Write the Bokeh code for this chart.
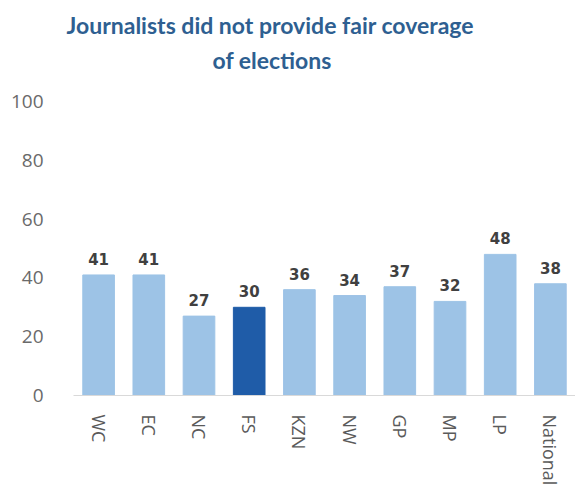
import math
from bokeh.plotting import figure
from bokeh.models import Range1d, FixedTicker, ColumnDataSource, Title
from bokeh.core.properties import value
from bokeh.embed import file_html
from bokeh.resources import INLINE

categories = ["WC", "EC", "NC", "FS", "KZN", "NW", "GP", "MP", "LP", "National"]
values = [41, 41, 27, 30, 36, 34, 37, 32, 48, 38]
highlight = "FS"
y_ticks = [0, 20, 40, 60, 80, 100]
title_lines = ["Journalists did not provide fair coverage", "of elections"]

LIGHT = "#9dc3e6"
DARK = "#1f5ca8"
colors = [DARK if c == highlight else LIGHT for c in categories]
labels = [str(v) for v in values]

src = ColumnDataSource(dict(cat=categories, val=values, color=colors, lab=labels))

FRAME_TOP = 77
p = figure(x_range=categories, y_range=Range1d(0, (395 - FRAME_TOP) / 2.94), width=575, height=492,
           output_backend="svg", toolbar_location=None,
           min_border_left=73, min_border_right=0, min_border_top=FRAME_TOP, min_border_bottom=97)
p.outline_line_color = None
p.grid.grid_line_color = None
p.background_fill_color = "white"
p.border_fill_color = "white"

p.vbar(x="cat", top="val", width=0.63, color="color", source=src)
p.text(x="cat", y="val", text="lab", source=src, y_offset=-10,
       text_align="center", text_baseline="bottom",
       text_font=value("DejaVu Sans"), text_font_style="bold",
       text_font_size="15px", text_color="#404040")

# y axis
p.yaxis.ticker = FixedTicker(ticks=y_ticks)
p.yaxis.axis_line_color = None
p.yaxis.major_tick_line_color = None
p.yaxis.minor_tick_line_color = None
p.yaxis.major_label_text_font = "Open Sans"
p.yaxis.major_label_text_font_size = "19px"
p.yaxis.major_label_text_color = "#6a6a6a"
p.yaxis.major_label_standoff = 24

# x axis
p.xaxis.axis_line_color = "#d9d9d9"
p.xaxis.major_tick_line_color = None
p.xaxis.major_label_orientation = -math.pi / 2
p.xaxis.major_label_text_font = "Open Sans"
p.xaxis.major_label_text_font_size = "18px"
p.xaxis.major_label_text_color = "#5a5a5a"
p.xaxis.major_label_standoff = 13

# title: two lines, stacked above the frame (first added sits nearest the frame)
line2 = Title(text=title_lines[1], align="left", offset=139, standoff=8,
              text_font="Lato", text_font_style="bold", text_font_size="23px",
              text_color="#2e5f91")
line1 = Title(text=title_lines[0], align="left", offset=-7, standoff=2,
              text_font="Lato", text_font_style="bold", text_font_size="23px",
              text_color="#2e5f91")
p.add_layout(line2, "above")
p.add_layout(line1, "above")

open("out.html", "w").write(file_html(p, INLINE))
